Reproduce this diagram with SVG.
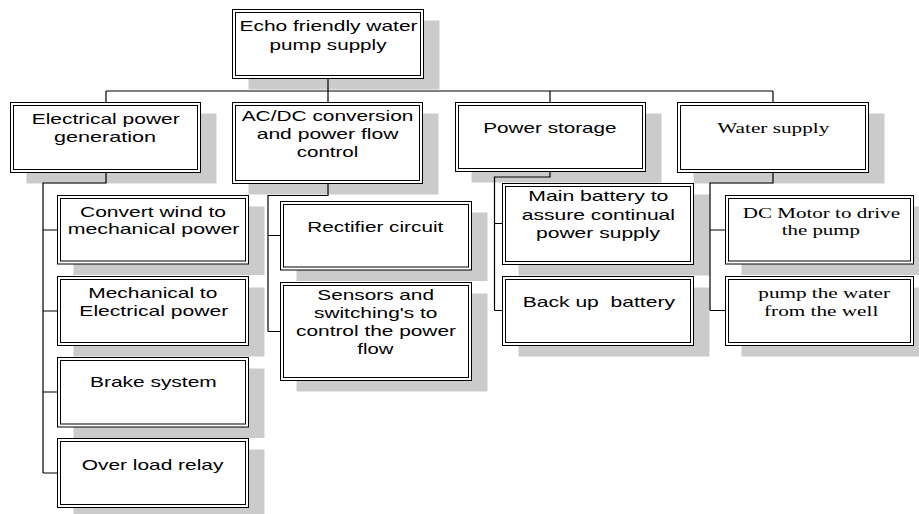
<svg xmlns="http://www.w3.org/2000/svg" width="919" height="514" viewBox="0 0 919 514">
<style>
.sh{fill:#cbcbcb;stroke:none}
.bo{fill:#fff;stroke:#000;stroke-width:1}
.bi{fill:none;stroke:#000;stroke-width:1}
.cn{fill:none;stroke:#000;stroke-width:1.2}
.s{font-family:"Liberation Sans",Arial,sans-serif;font-size:15px;fill:#000}
.r{font-family:"Liberation Serif","Times New Roman",serif;font-size:15px;fill:#000}
</style>
<rect width="919" height="514" fill="#fff"/>
<g id="shadows">
<rect class="sh" x="248.5" y="20.5" width="191" height="69"/>
<rect class="sh" x="26.5" y="113.5" width="190" height="70"/>
<rect class="sh" x="248.5" y="113.5" width="190" height="81"/>
<rect class="sh" x="471.5" y="113.5" width="190" height="69"/>
<rect class="sh" x="693.5" y="113.5" width="191" height="70"/>
<rect class="sh" x="73.5" y="206.5" width="191" height="68.5"/>
<rect class="sh" x="73.5" y="287.5" width="191" height="69"/>
<rect class="sh" x="73.5" y="368.5" width="191" height="69.5"/>
<rect class="sh" x="73.5" y="449.5" width="191" height="69"/>
<rect class="sh" x="296.5" y="212.5" width="191" height="68.5"/>
<rect class="sh" x="296.5" y="293.5" width="191" height="98"/>
<rect class="sh" x="518.5" y="194.5" width="191" height="81"/>
<rect class="sh" x="518.5" y="287.5" width="191" height="69"/>
<rect class="sh" x="741.5" y="206.5" width="188" height="68.5"/>
<rect class="sh" x="741.5" y="287.5" width="188" height="69"/>
</g>
<g id="connectors">
<path class="cn" d="M328 79V91M106 91H773M106 91V102.5M328 91V102.5M550 91V102.5M773 91V102.5"/>
<path class="cn" d="M106 172.5V183H43V473M43 230H57.5M43 311H57.5M43 392H57.5M43 473H57.5"/>
<path class="cn" d="M328 184V195.5H268V331.5M268 235.5H280.5M268 331.5H280.5"/>
<path class="cn" d="M550 171.5V177H494.5V310.5M494.5 223.5H502.5M494.5 310.5H502.5"/>
<path class="cn" d="M773 172.5V183H710V310.5M710 230H725.5M710 310.5H725.5"/>
</g>
<g id="n0">
<rect class="bo" x="232.5" y="9.5" width="191" height="69"/>
<rect class="bi" x="235.5" y="12.5" width="185" height="63"/>
<text class="s" x="239.5" y="31" textLength="178" lengthAdjust="spacingAndGlyphs">Echo friendly water</text>
<text class="s" x="269.5" y="50" textLength="117" lengthAdjust="spacingAndGlyphs">pump supply</text>
</g>
<g id="n1">
<rect class="bo" x="10.5" y="102.5" width="190" height="70"/>
<rect class="bi" x="13.5" y="105.5" width="184" height="64"/>
<text class="s" x="31.7" y="124.3" textLength="148" lengthAdjust="spacingAndGlyphs">Electrical power</text>
<text class="s" x="54" y="141.7" textLength="102" lengthAdjust="spacingAndGlyphs">generation</text>
</g>
<g id="n2">
<rect class="bo" x="232.5" y="102.5" width="190" height="81"/>
<rect class="bi" x="235.5" y="105.5" width="184" height="75"/>
<text class="s" x="241.7" y="121" textLength="171.7" lengthAdjust="spacingAndGlyphs">AC/DC conversion</text>
<text class="s" x="256.7" y="139" textLength="141.7" lengthAdjust="spacingAndGlyphs">and power flow</text>
<text class="s" x="296.7" y="156.7" textLength="61.7" lengthAdjust="spacingAndGlyphs">control</text>
</g>
<g id="n3">
<rect class="bo" x="455.5" y="102.5" width="190" height="69"/>
<rect class="bi" x="458.5" y="105.5" width="184" height="63"/>
<text class="s" x="483.3" y="132.7" textLength="133.3" lengthAdjust="spacingAndGlyphs">Power storage</text>
</g>
<g id="n4">
<rect class="bo" x="677.5" y="102.5" width="191" height="70"/>
<rect class="bi" x="680.5" y="105.5" width="185" height="64"/>
<text class="r" x="717.3" y="132.7" textLength="112" lengthAdjust="spacingAndGlyphs">Water supply</text>
</g>
<g id="n5">
<rect class="bo" x="57.5" y="195.5" width="191" height="68.5"/>
<rect class="bi" x="60.5" y="198.5" width="185" height="62.5"/>
<text class="s" x="80" y="216.7" textLength="146" lengthAdjust="spacingAndGlyphs">Convert wind to</text>
<text class="s" x="67.7" y="234.3" textLength="171.7" lengthAdjust="spacingAndGlyphs">mechanical power</text>
</g>
<g id="n6">
<rect class="bo" x="57.5" y="276.5" width="191" height="69"/>
<rect class="bi" x="60.5" y="279.5" width="185" height="63"/>
<text class="s" x="88.3" y="298.3" textLength="129" lengthAdjust="spacingAndGlyphs">Mechanical to</text>
<text class="s" x="79.3" y="316" textLength="149" lengthAdjust="spacingAndGlyphs">Electrical power</text>
</g>
<g id="n7">
<rect class="bo" x="57.5" y="357.5" width="191" height="69.5"/>
<rect class="bi" x="60.5" y="360.5" width="185" height="63.5"/>
<text class="s" x="90" y="387.3" textLength="126.7" lengthAdjust="spacingAndGlyphs">Brake system</text>
</g>
<g id="n8">
<rect class="bo" x="57.5" y="438.5" width="191" height="69"/>
<rect class="bi" x="60.5" y="441.5" width="185" height="63"/>
<text class="s" x="81.7" y="470" textLength="141.7" lengthAdjust="spacingAndGlyphs">Over load relay</text>
</g>
<g id="n9">
<rect class="bo" x="280.5" y="201.5" width="191" height="68.5"/>
<rect class="bi" x="283.5" y="204.5" width="185" height="62.5"/>
<text class="s" x="307.3" y="232.3" textLength="136" lengthAdjust="spacingAndGlyphs">Rectifier circuit</text>
</g>
<g id="n10">
<rect class="bo" x="280.5" y="282.5" width="191" height="98"/>
<rect class="bi" x="283.5" y="285.5" width="185" height="92"/>
<text class="s" x="317.3" y="300" textLength="116.7" lengthAdjust="spacingAndGlyphs">Sensors and</text>
<text class="s" x="314" y="317.7" textLength="123.3" lengthAdjust="spacingAndGlyphs">switching's to</text>
<text class="s" x="296" y="336" textLength="160" lengthAdjust="spacingAndGlyphs">control the power</text>
<text class="s" x="357.3" y="354.3" textLength="36" lengthAdjust="spacingAndGlyphs">flow</text>
</g>
<g id="n11">
<rect class="bo" x="502.5" y="183.5" width="191" height="81"/>
<rect class="bi" x="505.5" y="186.5" width="185" height="75"/>
<text class="s" x="528.3" y="200.7" textLength="140" lengthAdjust="spacingAndGlyphs">Main battery to</text>
<text class="s" x="521.7" y="220" textLength="153.3" lengthAdjust="spacingAndGlyphs">assure continual</text>
<text class="s" x="536" y="238.3" textLength="124" lengthAdjust="spacingAndGlyphs">power supply</text>
</g>
<g id="n12">
<rect class="bo" x="502.5" y="276.5" width="191" height="69"/>
<rect class="bi" x="505.5" y="279.5" width="185" height="63"/>
<text class="s" x="522.7" y="307.3" textLength="152.3" lengthAdjust="spacingAndGlyphs" xml:space="preserve">Back up  battery</text>
</g>
<g id="n13">
<rect class="bo" x="725.5" y="195.5" width="188" height="68.5"/>
<rect class="bi" x="728.5" y="198.5" width="182" height="62.5"/>
<text class="r" x="742.7" y="217.7" textLength="157.3" lengthAdjust="spacingAndGlyphs">DC Motor to drive</text>
<text class="r" x="781.7" y="235" textLength="78.3" lengthAdjust="spacingAndGlyphs">the pump</text>
</g>
<g id="n14">
<rect class="bo" x="725.5" y="276.5" width="188" height="69"/>
<rect class="bi" x="728.5" y="279.5" width="182" height="63"/>
<text class="r" x="758.3" y="298.3" textLength="131.7" lengthAdjust="spacingAndGlyphs">pump the water</text>
<text class="r" x="764" y="315.7" textLength="114.3" lengthAdjust="spacingAndGlyphs">from the well</text>
</g>
</svg>
